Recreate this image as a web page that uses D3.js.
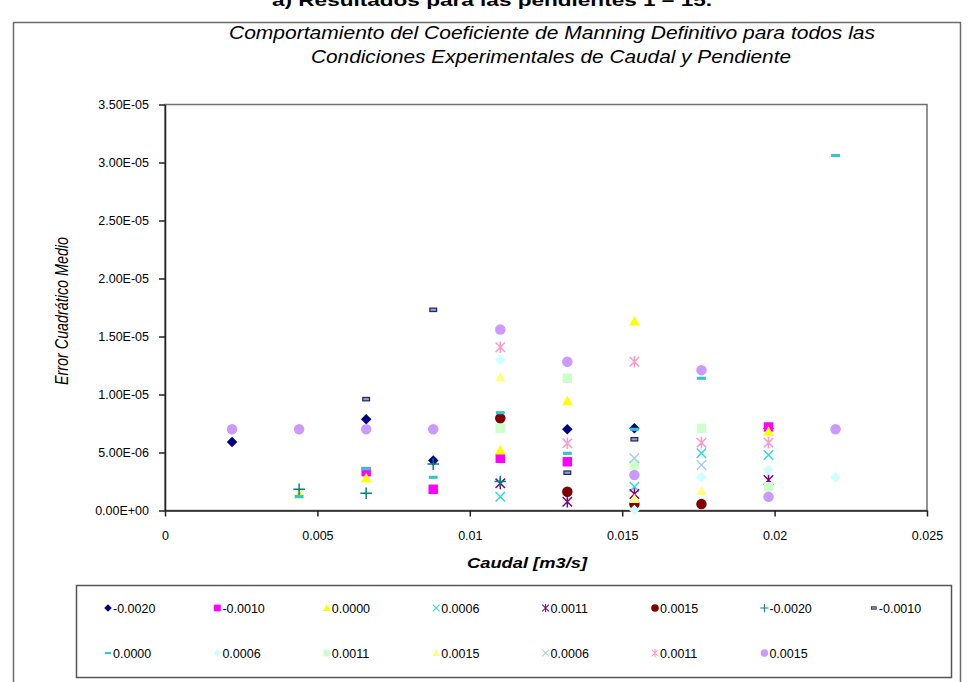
<!DOCTYPE html>
<html>
<head>
<meta charset="utf-8">
<script src="https://cdn.jsdelivr.net/npm/d3@7"></script>
<style>
  html, body { margin: 0; padding: 0; background: #fff; }
  svg { display: block; }
  text { font-family: "Liberation Sans", Arial, sans-serif; fill: #000; }
</style>
</head>
<body>
<svg id="chart" width="968" height="682"></svg>
<script>
// Caudal values (m3/s) shared by all runs
const caudal = [0.0022, 0.0044, 0.0066, 0.0088, 0.011, 0.0132, 0.0154, 0.0176, 0.0198, 0.022];

// Slope label of each series
const seriesNames = ["-0.0020", "-0.0010", "0.0000", "0.0006", "0.0011", "0.0015", "-0.0020", "-0.0010",
                     "0.0000", "0.0006", "0.0011", "0.0015", "0.0006", "0.0011", "0.0015"];

// Marker shape of each series
const seriesMarkers = ["diamond", "square", "triangle", "x", "star", "circle", "plus", "dashDark",
                       "dash", "diamond", "square", "triangle", "x", "star", "circle"];

// Marker colour of each series
const seriesColors = ["#000080", "#FF00FF", "#FFFF00", "#2CD8DE", "#800080", "#800000", "#008080", "#1F2A6B",
                      "#33C6CC", "#CCFFFF", "#CCFFCC", "#FFFF80", "#A8C8EE", "#FF99CC", "#CC99FF"];

// Mean squared error per series, one entry per caudal (null = no point)
const s01 = [5.9e-6, null, 7.86e-6, 4.3e-6, null, 7.0e-6, 7.08e-6, null, 7.1e-6, null];
const s02 = [null, null, 3.35e-6, 1.83e-6, 4.5e-6, 4.2e-6, null, null, 7.2e-6, null];
const s03 = [null, 1.4e-6, 2.8e-6, null, 5.2e-6, 9.44e-6, 16.3e-6, null, 6.8e-6, null];
const s04 = [null, null, null, null, 1.19e-6, null, 2.05e-6, 4.93e-6, 4.78e-6, null];
const s05 = [null, null, null, null, 2.34e-6, 0.76e-6, 1.42e-6, null, 2.63e-6, null];
const s06 = [null, null, null, null, 7.95e-6, 1.62e-6, 0.55e-6, 0.55e-6, null, null];
const s07 = [null, 1.83e-6, 1.48e-6, 4.0e-6, 2.5e-6, null, null, null, null, null];
const s08 = [null, null, 9.6e-6, 17.3e-6, null, 3.26e-6, 6.14e-6, null, null, null];
const s09 = [null, 1.2e-6, 3.6e-6, 2.86e-6, 8.43e-6, 4.93e-6, 7.0e-6, 11.4e-6, null, 30.6e-6];
const s10 = [null, null, null, null, 12.97e-6, null, 0.05e-6, 2.86e-6, 3.49e-6, 2.86e-6];
const s11 = [null, null, null, null, 7.08e-6, 11.4e-6, 3.92e-6, 7.08e-6, 2.05e-6, null];
const s12 = [null, null, null, null, 11.48e-6, null, 1.0e-6, 1.68e-6, null, null];
const s13 = [null, null, null, null, null, null, 4.5e-6, 3.92e-6, null, null];
const s14 = [null, null, null, null, 14.07e-6, 5.79e-6, 12.83e-6, 5.85e-6, 5.85e-6, null];
const s15 = [7.0e-6, 7.0e-6, 7.0e-6, 7.0e-6, 15.6e-6, 12.83e-6, 3.06e-6, 12.1e-6, 1.19e-6, 7.0e-6];
const seriesValues = [s01, s02, s03, s04, s05, s06, s07, s08, s09, s10, s11, s12, s13, s14, s15];

// Axis ticks
const xTicks = [0, 0.005, 0.01, 0.015, 0.02, 0.025];
const xTickLabels = ["0", "0.005", "0.01", "0.015", "0.02", "0.025"];
const yTicks = [0, 5e-6, 10e-6, 15e-6, 20e-6, 25e-6, 30e-6, 35e-6];

const svg = d3.select("#chart");

// Outer chart frame
svg.append("rect").attr("x", 13.5).attr("y", 22.5).attr("width", 947).attr("height", 680)
  .attr("fill", "#fff").attr("stroke", "#6b6b6b").attr("stroke-width", 1.5);

// Caption above the frame
svg.append("text").attr("x", 492).attr("y", 6).attr("text-anchor", "middle")
  .attr("font-size", 17).attr("font-weight", "bold")
  .attr("textLength", 440).attr("lengthAdjust", "spacingAndGlyphs")
  .text("a)   Resultados para las pendientes 1 – 15.");

// Title
const title = svg.append("g").attr("font-style", "italic").attr("font-size", 19);
title.append("text").attr("x", 552).attr("y", 39).attr("text-anchor", "middle")
  .attr("textLength", 646).attr("lengthAdjust", "spacingAndGlyphs")
  .text("Comportamiento del Coeficiente de Manning Definitivo para todos las");
title.append("text").attr("x", 551).attr("y", 63).attr("text-anchor", "middle")
  .attr("textLength", 480).attr("lengthAdjust", "spacingAndGlyphs")
  .text("Condiciones Experimentales de Caudal y Pendiente");

const plot = { left: 165, right: 927, top: 104.5, bottom: 510.5 };
const x = d3.scaleLinear().domain([0, 0.025]).range([plot.left, plot.right]);
const y = d3.scaleLinear().domain([0, 3.5e-5]).range([plot.bottom, plot.top]);

// Plot area border
svg.append("rect").attr("x", plot.left).attr("y", plot.top)
  .attr("width", plot.right - plot.left).attr("height", plot.bottom - plot.top)
  .attr("fill", "none").attr("stroke", "#707070").attr("stroke-width", 1.5);

function sciLabel(v) {
  const [m, e] = v.toExponential(2).split("e");
  const n = parseInt(e, 10);
  return m + "E" + (n < 0 ? "-" : "+") + String(Math.abs(n)).padStart(2, "0");
}

const xAxis = svg.append("g").attr("transform", `translate(0,${plot.bottom})`)
  .call(d3.axisBottom(x).tickValues(xTicks).tickFormat((d, i) => xTickLabels[i])
    .tickSize(6).tickSizeOuter(0).tickPadding(15));
const yAxis = svg.append("g").attr("transform", `translate(${plot.left},0)`)
  .call(d3.axisLeft(y).tickValues(yTicks).tickFormat(sciLabel)
    .tickSize(6).tickSizeOuter(0).tickPadding(10));
[xAxis, yAxis].forEach(a => {
  a.select(".domain").attr("stroke", "#222").attr("stroke-width", 1.5);
  a.selectAll(".tick line").attr("stroke", "#222").attr("stroke-width", 1.5);
  a.selectAll(".tick text").attr("font-size", 12.5).attr("fill", "#111")
    .attr("font-family", "'Liberation Sans', Arial, sans-serif");
});

// Axis titles
svg.append("text").attr("transform", "translate(68,311) rotate(-90)")
  .attr("text-anchor", "middle").attr("font-style", "italic").attr("font-size", 18)
  .attr("textLength", 148).attr("lengthAdjust", "spacingAndGlyphs")
  .text("Error Cuadrático Medio");
svg.append("text").attr("x", 527).attr("y", 568).attr("text-anchor", "middle")
  .attr("font-family", "'Liberation Serif', 'Times New Roman', serif")
  .attr("font-style", "italic").attr("font-weight", "bold").attr("font-size", 15)
  .attr("textLength", 120).attr("lengthAdjust", "spacingAndGlyphs")
  .text("Caudal [m3/s]");

// Marker drawing
function drawMarker(g, type, color, k) {
  const s = 5 * k;
  switch (type) {
    case "diamond":
      g.append("path").attr("d", `M0,${-s}L${s},0L0,${s}L${-s},0Z`).attr("fill", color);
      break;
    case "square":
      g.append("rect").attr("x", -0.9 * s).attr("y", -0.9 * s).attr("width", 1.8 * s).attr("height", 1.8 * s)
        .attr("fill", color);
      break;
    case "triangle":
      g.append("path").attr("d", `M0,${-s}L${s},${0.8 * s}L${-s},${0.8 * s}Z`).attr("fill", color);
      break;
    case "x": {
      const a = 0.9 * s;
      g.append("path").attr("d", `M${-a},${-a}L${a},${a}M${a},${-a}L${-a},${a}`)
        .attr("stroke", color).attr("stroke-width", 1.4 * k).attr("fill", "none");
      break;
    }
    case "star": {
      const a = 0.9 * s;
      g.append("path").attr("d", `M${-a},${-a}L${a},${a}M${a},${-a}L${-a},${a}M0,${-1.1 * s}V${1.1 * s}`)
        .attr("stroke", color).attr("stroke-width", 1.4 * k).attr("fill", "none");
      break;
    }
    case "circle":
      g.append("circle").attr("r", s).attr("fill", color);
      break;
    case "plus":
      g.append("path").attr("d", `M${-1.1 * s},0H${1.1 * s}M0,${-1.1 * s}V${1.1 * s}`)
        .attr("stroke", color).attr("stroke-width", 1.4 * k).attr("fill", "none");
      break;
    case "dashDark":
      g.append("rect").attr("x", -3.2 * k).attr("y", -1.6 * k).attr("width", 6.4 * k).attr("height", 3.2 * k)
        .attr("fill", "#9aa0c0").attr("stroke", color).attr("stroke-width", 1.2 * k);
      break;
    case "dash":
      g.append("rect").attr("x", -4.2 * k).attr("y", -1.5 * k).attr("width", 8.4 * k).attr("height", 3 * k)
        .attr("fill", color);
      break;
  }
}

// Points
const points = svg.append("g");
seriesValues.forEach((vals, si) => {
  const pts = caudal.map((c, i) => ({ c, v: vals[i] })).filter(d => d.v !== null);
  points.append("g").selectAll("g").data(pts).join("g")
    .attr("transform", d => `translate(${x(d.c)},${y(d.v)})`)
    .each(function () { drawMarker(d3.select(this), seriesMarkers[si], seriesColors[si], 1.05); });
});

// Legend
const legendBox = { x: 76.5, y: 585.5, w: 875, h: 92 };
svg.append("rect").attr("x", legendBox.x).attr("y", legendBox.y)
  .attr("width", legendBox.w).attr("height", legendBox.h)
  .attr("fill", "#fff").attr("stroke", "#555").attr("stroke-width", 1.5);
const legend = svg.append("g");
seriesNames.forEach((name, i) => {
  const col = i % 8, row = Math.floor(i / 8);
  const lx = 108 + col * 109.4, ly = 608 + row * 45;
  const item = legend.append("g").attr("transform", `translate(${lx},${ly})`);
  drawMarker(item, seriesMarkers[i], seriesColors[i], 0.75);
  item.append("text").attr("x", 5).attr("y", 4.5).attr("font-size", 12.5).attr("fill", "#111").text(name);
});
</script>
</body>
</html>
